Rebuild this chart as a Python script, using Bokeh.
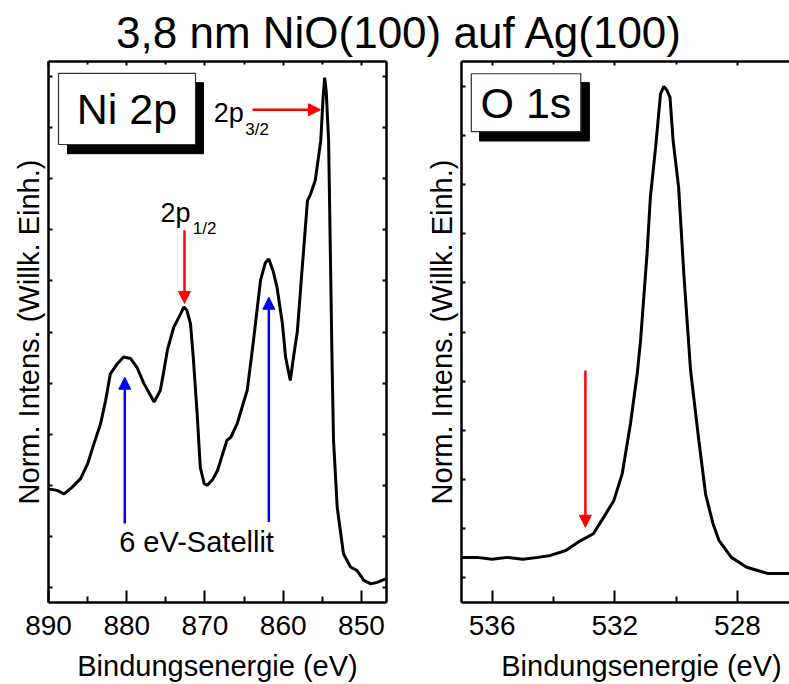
from bokeh.plotting import figure
from bokeh.models import (Range1d, LinearAxis, FixedTicker, CustomJSTickFormatter,
                          Label, Arrow, NormalHead, BoxAnnotation, Div)
from bokeh.layouts import column, row
from bokeh.embed import file_html
from bokeh.resources import INLINE

FONT = "Liberation Sans"

title_text = "3,8 nm NiO(100) auf Ag(100)"
x_label = "Bindungsenergie (eV)"
y_label = "Norm. Intens. (Willk. Einh.)"

# Ni 2p spectrum (binding energy in eV, normalized intensity)
ni_energy = [890.0, 888.9, 888.0, 887.0, 885.9, 885.0, 884.2, 883.35, 882.7, 882.1,
             881.2, 880.4, 879.5, 878.7, 877.8, 876.5, 875.7, 875.3, 874.8, 874.0,
             873.1, 872.7, 872.3, 871.85, 871.5, 871.0, 870.6, 870.1, 869.7, 869.0,
             868.4, 867.2, 866.7, 865.9, 864.6, 863.8, 863.3, 862.9, 862.3, 861.85,
             861.3, 860.8, 860.1, 859.7, 859.1, 858.6, 858.2, 857.6, 856.9, 856.5,
             855.9, 855.2, 854.9, 854.7, 854.5, 854.2, 853.74, 853.57, 853.1, 852.3,
             851.4, 850.55, 849.7, 848.8, 848.0, 846.9]
ni_intensity = [0.193, 0.190, 0.183, 0.196, 0.213, 0.242, 0.281, 0.320, 0.366, 0.418,
                0.438, 0.451, 0.448, 0.431, 0.399, 0.363, 0.386, 0.420, 0.465, 0.509,
                0.536, 0.549, 0.542, 0.516, 0.451, 0.340, 0.235, 0.203, 0.200, 0.212,
                0.229, 0.288, 0.294, 0.320, 0.386, 0.483, 0.549, 0.601, 0.635, 0.643,
                0.620, 0.588, 0.516, 0.451, 0.405, 0.460, 0.500, 0.620, 0.757, 0.770,
                0.797, 0.875, 0.960, 0.998, 0.970, 0.875, 0.425, 0.288, 0.157, 0.066,
                0.040, 0.033, 0.014, 0.007, 0.010, 0.017]

# O 1s spectrum
o_energy = [537.0, 536.5, 536.0, 535.5, 535.0, 534.5, 534.1, 533.6, 533.2, 532.7,
            532.36, 532.03, 531.76, 531.49, 531.27, 531.16, 530.95, 530.84, 530.67, 530.51,
            530.4, 530.3, 530.2, 530.1, 529.92, 529.75, 529.53, 529.26, 529.04, 528.8,
            528.6, 528.2, 527.7, 527.0, 526.3, 525.6]
o_intensity = [0.041, 0.041, 0.037, 0.041, 0.037, 0.041, 0.045, 0.055, 0.072, 0.089,
               0.123, 0.157, 0.211, 0.313, 0.415, 0.483, 0.659, 0.775, 0.876, 0.985,
               1.000, 0.992, 0.978, 0.890, 0.795, 0.619, 0.422, 0.279, 0.170, 0.110,
               0.075, 0.041, 0.021, 0.008, 0.008, 0.006]

ni_major_ticks = [890, 880, 870, 860, 850]
ni_minor_ticks = [885, 875, 865, 855]
o_major_ticks = [536, 532, 528]
o_minor_ticks = [534, 530, 526]
y_ticks = [0.0, 0.1, 0.2, 0.3, 0.4, 0.5, 0.6, 0.7, 0.8, 0.9, 1.0]

ni_box_label = "Ni 2p"
o_box_label = "O 1s"
sat_label = "6 eV-Satellit"


def style_blank(axis):
    axis.formatter = CustomJSTickFormatter(code="return ''")
    axis.major_label_text_font_size = "0px"
    axis.major_label_standoff = 0
    axis.major_tick_out = 0
    axis.minor_tick_out = 0
    axis.axis_line_width = 2.5
    axis.major_tick_line_width = 2
    axis.minor_tick_line_width = 2
    return axis


def make_panel(xr, yr, frame_w, mb_left, mb_right, xmaj, xmin, right_axis):
    p = figure(x_range=xr, y_range=yr, frame_width=frame_w, frame_height=541,
               min_border_left=mb_left, min_border_right=mb_right,
               min_border_top=3, min_border_bottom=82,
               x_axis_type=None, y_axis_type=None, title=None,
               toolbar_location=None, output_backend="svg",
               outline_line_color=None, background_fill_color="white",
               border_fill_color="white")
    xt = FixedTicker(ticks=xmaj, minor_ticks=xmin)
    yt = FixedTicker(ticks=y_ticks, minor_ticks=[])

    xb = LinearAxis(ticker=xt, axis_label=x_label)
    xb.major_tick_in = 12
    xb.major_tick_out = 0
    xb.minor_tick_in = 6
    xb.minor_tick_out = 0
    xb.axis_line_width = 2.5
    xb.major_tick_line_width = 2
    xb.minor_tick_line_width = 2
    xb.major_label_text_font = FONT
    xb.major_label_text_font_size = "28px"
    xb.major_label_text_color = "black"
    xb.major_label_standoff = 13
    xb.axis_label_text_font = FONT
    xb.axis_label_text_font_size = "29px"
    xb.axis_label_text_font_style = "normal"
    xb.axis_label_text_color = "black"
    xb.axis_label_standoff = 12
    p.add_layout(xb, "below")

    xa = style_blank(LinearAxis(ticker=xt))
    xa.major_tick_in = 4
    xa.minor_tick_in = 3
    p.add_layout(xa, "above")

    yl = style_blank(LinearAxis(ticker=yt, axis_label=y_label))
    yl.major_tick_in = 4
    yl.axis_label_text_font = FONT
    yl.axis_label_text_font_size = "29px"
    yl.axis_label_text_font_style = "normal"
    yl.axis_label_text_color = "black"
    yl.axis_label_standoff = 4
    p.add_layout(yl, "left")

    if right_axis:
        yrr = style_blank(LinearAxis(ticker=yt))
        yrr.major_tick_in = 4
        p.add_layout(yrr, "right")
    return p


def txt(x, y, s, size, align="left"):
    return Label(x=x, y=y, text=s, text_align=align, text_baseline="middle",
                 text_font=FONT, text_font_size=size, text_color="black")


def arrow(x0, y0, x1, y1, color):
    return Arrow(end=NormalHead(size=12, fill_color=color, line_color=color),
                 x_start=x0, y_start=y0, x_end=x1, y_end=y1,
                 line_color=color, line_width=2.5)


# ---------------- left panel: Ni 2p ----------------
p1 = make_panel(Range1d(890, 846.8), Range1d(-0.0294, 1.0294), 338, 48, 5,
                ni_major_ticks, ni_minor_ticks, True)
p1.line(ni_energy, ni_intensity, line_color="black", line_width=3)

p1.add_layout(BoxAnnotation(left=887.57, right=870.19, top=0.988, bottom=0.849,
                            fill_color="black", fill_alpha=1, line_color="black", line_alpha=1))
p1.add_layout(BoxAnnotation(left=888.72, right=871.21, top=1.006, bottom=0.867,
                            fill_color="white", fill_alpha=1, line_color="#333333",
                            line_width=1.2, line_alpha=1))
p1.add_layout(txt(879.97, 0.937, ni_box_label, "43px", "center"))

p1.add_layout(txt(868.87, 0.9292, "2p", "27px"))
p1.add_layout(txt(864.85, 0.8969, "3/2", "17px"))
p1.add_layout(txt(875.69, 0.7329, "2p", "27px"))
p1.add_layout(txt(871.55, 0.7020, "1/2", "17px"))

p1.add_layout(arrow(863.93, 0.935, 855.24, 0.935, "red"))
p1.add_layout(arrow(872.62, 0.699, 872.62, 0.556, "red"))
p1.add_layout(arrow(880.25, 0.125, 880.25, 0.4115, "blue"))
p1.add_layout(arrow(861.84, 0.128, 861.84, 0.568, "blue"))
p1.add_layout(txt(871.08, 0.0881, sat_label, "29px", "center"))

# ---------------- right panel: O 1s ----------------
p2 = make_panel(Range1d(537, 525.26), Range1d(-0.0509, 1.0509), 360, 70, 0,
                o_major_ticks, o_minor_ticks, False)
p2.line(o_energy, o_intensity, line_color="black", line_width=3)

p2.add_layout(BoxAnnotation(left=536.41, right=532.83, top=1.008, bottom=0.889,
                            fill_color="black", fill_alpha=1, line_color="black", line_alpha=1))
p2.add_layout(BoxAnnotation(left=536.68, right=533.11, top=1.026, bottom=0.908,
                            fill_color="white", fill_alpha=1, line_color="#333333",
                            line_width=1.2, line_alpha=1))
p2.add_layout(txt(534.90, 0.966, o_box_label, "43px", "center"))
p2.add_layout(arrow(532.96, 0.4216, 532.96, 0.1024, "red"))

# ---------------- title ----------------
title = Div(text=title_text, width=797, height=58, margin=0,
            styles={"font-family": FONT, "font-size": "44px", "text-align": "center",
                    "line-height": "66px", "color": "black", "white-space": "nowrap"})

layout = column(title, row(p1, p2))
open("out.html", "w").write(file_html(layout, INLINE))
